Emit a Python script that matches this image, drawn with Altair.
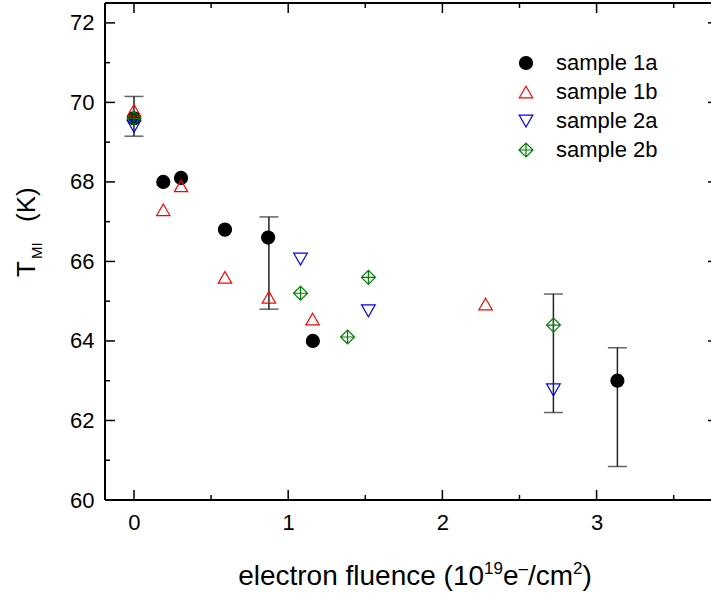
import altair as alt
import pandas as pd

series = ["sample 1a", "sample 1b", "sample 2a", "sample 2b"]
colors = ["black", "red", "blue", "green"]

x_1a = [0.0, 0.19, 0.305, 0.59, 0.87, 1.16, 3.135]
y_1a = [69.6, 68.0, 68.1, 66.8, 66.6, 64.0, 63.0]
x_1b = [0.0, 0.19, 0.305, 0.59, 0.875, 1.158, 2.28]
y_1b = [69.8, 67.3, 67.9, 65.6, 65.1, 64.55, 64.93]
x_2a = [0.0, 1.08, 1.52, 2.72]
y_2a = [69.4, 66.06, 64.76, 62.77]
x_2b = [0.0, 1.08, 1.385, 1.52, 2.72]
y_2b = [69.6, 65.2, 64.1, 65.6, 64.4]

err_x = [0.0, 0.875, 2.72, 3.135]
err_lo = [69.15, 64.8, 62.2, 60.84]
err_hi = [70.15, 67.12, 65.18, 63.83]

x_major = [0, 1, 2, 3]
x_minor = [0.5, 1.5, 2.5, 3.5]
y_major = [60, 62, 64, 66, 68, 70, 72]
y_minor = [61, 63, 65, 67, 69, 71]

# x title pieces: (text, is_superscript)
xtitle_parts = [("electron fluence (10", False), ("19", True), ("e", False),
                ("–", True), ("/cm", False), ("2", True), (")", False)]

rows = []
for name, xs, ys in zip(series, [x_1a, x_1b, x_2a, x_2b], [y_1a, y_1b, y_2a, y_2b]):
    for a, b in zip(xs, ys):
        rows.append({"x": a, "y": b, "series": name})
df = pd.DataFrame(rows)
err_df = pd.DataFrame({"x": err_x, "lo": err_lo, "hi": err_hi})

W, H = 606, 497
FONT = "Liberation Sans"
xscale = alt.Scale(domain=[-0.188, 3.742], nice=False, zero=False)
yscale = alt.Scale(domain=[60, 72.5], nice=False, zero=False)

xaxis = alt.Axis(
    values=x_major, format="d", title="",
    ticks=False, domain=False, grid=False, labelFontSize=22, labelPadding=12)
yaxis = alt.Axis(
    values=y_major, title="", ticks=False, domain=False, grid=False,
    labelFontSize=22, labelPadding=11)

tri_up = "M0,-0.87L1,0.87L-1,0.87Z"
tri_down = "M-1,-0.87L1,-0.87L0,0.87Z"
diamond_cross = "M-1,0L0,-1L1,0L0,1Z M-1,0L1,0 M0,-1L0,1"
shapes = ["circle", tri_up, tri_down, diamond_cross]
fills = ["black", "transparent", "transparent", "transparent"]
sizes = [169, 196, 196, 225]

legend = alt.Legend(
    orient="none", legendX=410, legendY=49, title=None,
    labelFontSize=22, labelFont=FONT, labelColor="black",
    symbolSize=180, symbolStrokeWidth=1.2, labelOffset=19,
    rowPadding=7, padding=0,
)

points = alt.Chart(df).mark_point(filled=False, opacity=1, strokeWidth=1.2).encode(
    x=alt.X("x:Q", scale=xscale, axis=xaxis),
    y=alt.Y("y:Q", scale=yscale, axis=yaxis),
    color=alt.Color("series:N", scale=alt.Scale(domain=series, range=colors), legend=legend),
    shape=alt.Shape("series:N", scale=alt.Scale(domain=series, range=shapes), legend=legend),
    fill=alt.Fill("series:N", scale=alt.Scale(domain=series, range=fills), legend=legend),
    size=alt.Size("series:N", scale=alt.Scale(domain=series, range=sizes), legend=None),
)

ERRC = "#222222"
ex = alt.X("x:Q", scale=xscale, axis=xaxis)
err_rule = alt.Chart(err_df).mark_rule(color=ERRC, strokeWidth=1.5).encode(
    x=ex, y=alt.Y("lo:Q", scale=yscale, axis=yaxis), y2="hi:Q")
cap_lo = alt.Chart(err_df).mark_tick(orient="horizontal", size=19, thickness=1.5, color=ERRC).encode(
    x=ex, y=alt.Y("lo:Q", scale=yscale, axis=yaxis))
cap_hi = alt.Chart(err_df).mark_tick(orient="horizontal", size=19, thickness=1.5, color=ERRC).encode(
    x=ex, y=alt.Y("hi:Q", scale=yscale, axis=yaxis))


def xticks(vals, length):
    d = pd.DataFrame({"v": vals})
    xx = alt.X("v:Q", scale=xscale, axis=xaxis)
    bot = alt.Chart(d).mark_rule(color="black", strokeWidth=1.5).encode(
        x=xx, y=alt.value(H), y2=alt.value(H - length))
    top = alt.Chart(d).mark_rule(color="black", strokeWidth=1.5).encode(
        x=xx, y=alt.value(0), y2=alt.value(length))
    return [bot, top]


def yticks(vals, length):
    d = pd.DataFrame({"v": vals})
    yy = alt.Y("v:Q", scale=yscale, axis=yaxis)
    left = alt.Chart(d).mark_rule(color="black", strokeWidth=1.5).encode(
        y=yy, x=alt.value(0), x2=alt.value(length))
    right = alt.Chart(d).mark_rule(color="black", strokeWidth=1.5).encode(
        y=yy, x=alt.value(W + 7), x2=alt.value(W + 7 - length))
    return [left, right]


one = pd.DataFrame({"a": [0]})
frame_top = alt.Chart(one).mark_rule(color="black", strokeWidth=2).encode(
    x=alt.value(0), x2=alt.value(W + 10), y=alt.value(0))
frame_bot = alt.Chart(one).mark_rule(color="black", strokeWidth=2).encode(
    x=alt.value(0), x2=alt.value(W + 10), y=alt.value(H))
frame_left = alt.Chart(one).mark_rule(color="black", strokeWidth=2).encode(
    x=alt.value(0), y=alt.value(0), y2=alt.value(H))

# y title: T with subscript MI, then (K)
t_main = alt.Chart(one).mark_text(text="T", angle=270, align="left", baseline="alphabetic",
                                  fontSize=26, font=FONT, color="black").encode(
    x=alt.value(-70), y=alt.value(274))
t_sub = alt.Chart(one).mark_text(text="MI", angle=270, align="left", baseline="alphabetic",
                                 fontSize=15, font=FONT, color="black").encode(
    x=alt.value(-63), y=alt.value(256))
t_unit = alt.Chart(one).mark_text(text="(K)", angle=270, align="left", baseline="alphabetic",
                                  fontSize=26, font=FONT, color="black").encode(
    x=alt.value(-70), y=alt.value(219))

# x title built from pieces (Liberation Sans / Arial advance widths, em units)
CW = {"e": .556, "l": .222, "c": .5, "t": .278, "r": .333, "o": .556, "n": .556, " ": .278,
      "f": .278, "u": .556, "(": .333, ")": .333, "1": .556, "0": .556, "9": .556, "2": .556,
      "–": .556, "/": .278, "m": .833}
FMAIN, FSUP = 28, 17
widths = [sum(CW[c] for c in s) * (FSUP if sup else FMAIN) for s, sup in xtitle_parts]
total = sum(widths)
cx = 415 - 105
x0 = cx - total / 2
base_y = 585 - 3
title_layers = []
for (s, sup), w in zip(xtitle_parts, widths):
    title_layers.append(
        alt.Chart(one).mark_text(text=s, align="left", baseline="alphabetic",
                                 fontSize=FSUP if sup else FMAIN, font=FONT, color="black").encode(
            x=alt.value(x0), y=alt.value(base_y - (11 if sup else 0))))
    x0 += w

layers = [err_rule, cap_lo, cap_hi, points] + xticks(x_major, 10) + xticks(x_minor, 5) \
    + yticks(y_major, 10) + yticks(y_minor, 5) + [frame_top, frame_bot, frame_left, t_main, t_sub, t_unit] \
    + title_layers

chart = alt.layer(*layers).properties(
    width=W, height=H,
    autosize=alt.AutoSizeParams(type="none"),
    padding={"left": 105, "top": 3, "right": 0, "bottom": 95},
).configure_view(stroke=None).configure_axis(
    labelFont=FONT, titleFont=FONT, labelColor="black", titleColor="black"
)

chart.save("out.html", embed_options={"renderer": "svg", "actions": False})
